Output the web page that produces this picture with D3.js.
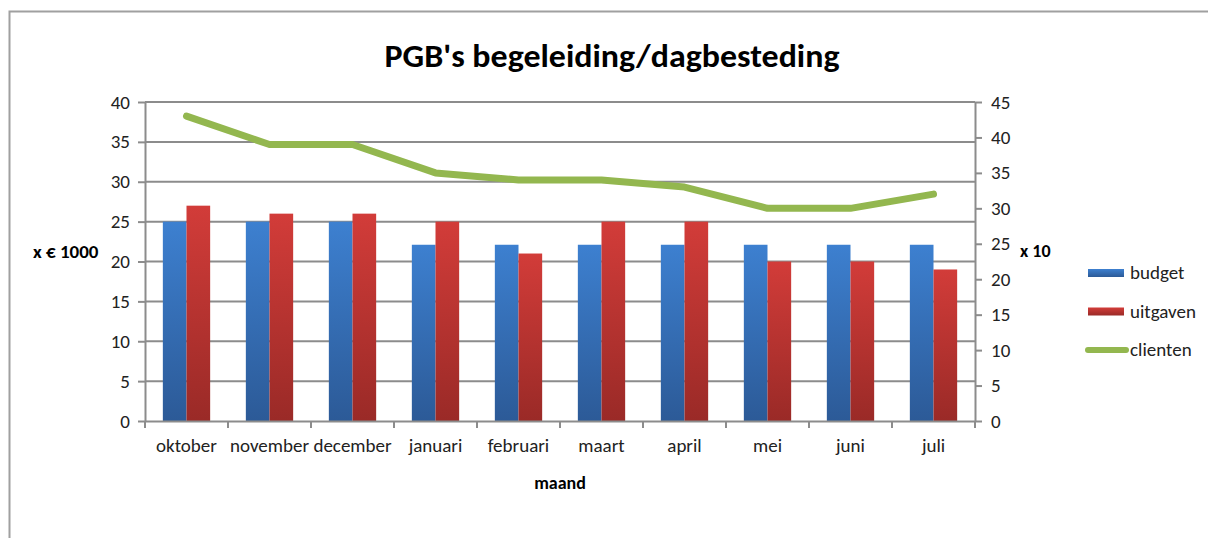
<!DOCTYPE html>
<html>
<head>
<meta charset="utf-8">
<script src="https://cdn.jsdelivr.net/npm/d3@7"></script>
<style>
  html, body { margin: 0; padding: 0; background: #fff; }
  svg { display: block; }
</style>
</head>
<body>
<div id="chart"></div>
<script>
const months = ['oktober','november','december','januari','februari','maart','april','mei','juni','juli'];
const budget = [25, 25, 25, 22.1, 22.1, 22.1, 22.1, 22.1, 22.1, 22.1];
const uitgaven = [27, 26, 26, 25, 21, 25, 25, 20, 20, 19];
const clienten = [43, 39, 39, 35, 34, 34, 33, 30, 30, 32];
const leftTicks = [0, 5, 10, 15, 20, 25, 30, 35, 40];
const rightTicks = [0, 5, 10, 15, 20, 25, 30, 35, 40, 45];
const seriesNames = ['budget', 'uitgaven', 'clienten'];

const width = 1208, height = 538;
const margin = {left: 145, right: 233, top: 102, bottom: 117};
const innerWidth = width - margin.left - margin.right;
const innerHeight = height - margin.top - margin.bottom;
const FONT = 'Calibri, Carlito, "Open Sans", sans-serif';
const gridCol = '#8c8c8c';

const svg = d3.select('#chart').append('svg')
  .attr('width', width).attr('height', height);

const defs = svg.append('defs');
function grad(id, top, bottom) {
  const g = defs.append('linearGradient').attr('id', id)
    .attr('x1', 0).attr('y1', 0).attr('x2', 0).attr('y2', 1);
  g.append('stop').attr('offset', '0%').attr('stop-color', top);
  g.append('stop').attr('offset', '100%').attr('stop-color', bottom);
}
grad('gBlue', '#3d80d0', '#2c5a97');
grad('gRed', '#d23c39', '#9a2a27');

/* outer frame (only top and left edges are inside the picture) */
svg.append('path')
  .attr('d', `M9.5,${height} V11.5 H${width}`)
  .attr('fill', 'none').attr('stroke', '#a0a0a0').attr('stroke-width', 2);

const chart = svg.append('g').attr('transform', `translate(${margin.left},${margin.top})`);

const x0 = d3.scaleBand().domain(months).range([0, innerWidth]);
const bw = x0.bandwidth();
const groupW = bw * 0.57;
const x1 = d3.scaleBand().domain(['budget', 'uitgaven'])
  .range([(bw - groupW) / 2, (bw + groupW) / 2]);
const yL = d3.scaleLinear().domain([0, 40]).range([innerHeight, 0]);
const yR = d3.scaleLinear().domain([0, 45]).range([innerHeight, 0]);

/* grid */
chart.selectAll('.grid')
  .data(leftTicks.filter(d => d > 0)).join('line')
  .attr('x1', 0).attr('x2', innerWidth)
  .attr('y1', d => yL(d)).attr('y2', d => yL(d))
  .attr('stroke', gridCol).attr('stroke-width', 2);

/* bars */
const rows = months.map((m, i) => ({m, budget: budget[i], uitgaven: uitgaven[i]}));
const grp = chart.selectAll('.grp').data(rows).join('g')
  .attr('transform', d => `translate(${x0(d.m)},0)`);
grp.append('rect')
  .attr('x', x1('budget')).attr('width', x1.bandwidth())
  .attr('y', d => yL(d.budget)).attr('height', d => innerHeight - yL(d.budget))
  .attr('fill', 'url(#gBlue)');
grp.append('rect')
  .attr('x', x1('uitgaven')).attr('width', x1.bandwidth())
  .attr('y', d => yL(d.uitgaven)).attr('height', d => innerHeight - yL(d.uitgaven))
  .attr('fill', 'url(#gRed)');

/* line */
const line = d3.line()
  .x((d, i) => x0(months[i]) + bw / 2)
  .y(d => yR(d));
chart.append('path').datum(clienten)
  .attr('d', line).attr('fill', 'none')
  .attr('stroke', '#93b74f').attr('stroke-width', 7)
  .attr('stroke-linecap', 'round').attr('stroke-linejoin', 'round');

/* axes */
function styleAxis(ax) {
  ax.attr('font-family', FONT).attr('font-size', 19);
  ax.select('.domain').attr('stroke', gridCol).attr('stroke-width', 2);
  ax.selectAll('.tick line').attr('stroke', gridCol).attr('stroke-width', 2);
  ax.selectAll('text').attr('fill', '#222');
}
chart.append('g')
  .call(d3.axisLeft(yL).tickValues(leftTicks).tickSize(7).tickSizeOuter(0).tickPadding(8))
  .call(styleAxis);
chart.append('g')
  .attr('transform', `translate(${innerWidth},0)`)
  .call(d3.axisRight(yR).tickValues(rightTicks).tickSize(7).tickSizeOuter(0).tickPadding(9))
  .call(styleAxis);
chart.append('g')
  .attr('transform', `translate(0,${innerHeight})`)
  .call(d3.axisBottom(x0).tickSize(0).tickPadding(18))
  .call(styleAxis);
chart.append('g').selectAll('line')
  .data(d3.range(months.length + 1)).join('line')
  .attr('x1', i => i * bw).attr('x2', i => i * bw)
  .attr('y1', innerHeight).attr('y2', innerHeight + 7)
  .attr('stroke', gridCol).attr('stroke-width', 2);

/* titles */
svg.append('text')
  .attr('x', 612).attr('y', 67).attr('text-anchor', 'middle')
  .attr('font-family', FONT).attr('font-weight', 700).attr('font-size', '33px')
  .attr('fill', '#000').attr('textLength', 455).attr('lengthAdjust', 'spacingAndGlyphs')
  .text("PGB's begeleiding/dagbesteding");

svg.append('text')
  .attr('x', 33).attr('y', 258)
  .attr('font-family', FONT).attr('font-weight', 700).attr('font-size', '19px')
  .attr('fill', '#000')
  .text('x € 1000');

svg.append('text')
  .attr('x', 1020).attr('y', 257)
  .attr('font-family', FONT).attr('font-weight', 700).attr('font-size', '18px')
  .attr('fill', '#000')
  .text('x 10');

svg.append('text')
  .attr('x', 560).attr('y', 489).attr('text-anchor', 'middle')
  .attr('font-family', FONT).attr('font-weight', 700).attr('font-size', '18px')
  .attr('fill', '#000')
  .text('maand');

/* legend */
const leg = svg.append('g').attr('transform', 'translate(1088,273)');
seriesNames.forEach((s, i) => {
  const r = leg.append('g').attr('transform', `translate(0,${i * 38.5})`);
  if (s === 'clienten') {
    r.append('line').attr('x1', 0).attr('x2', 38).attr('y1', 0).attr('y2', 0)
      .attr('stroke', '#93b74f').attr('stroke-width', 6).attr('stroke-linecap', 'round');
  } else {
    r.append('rect').attr('x', 0).attr('y', -4).attr('width', 36).attr('height', 8)
      .attr('fill', s === 'budget' ? 'url(#gBlue)' : 'url(#gRed)');
  }
  r.append('text').attr('x', 42).attr('y', 6)
    .attr('font-family', FONT).attr('font-size', '19px').attr('fill', '#222')
    .text(s);
});
</script>
</body>
</html>
